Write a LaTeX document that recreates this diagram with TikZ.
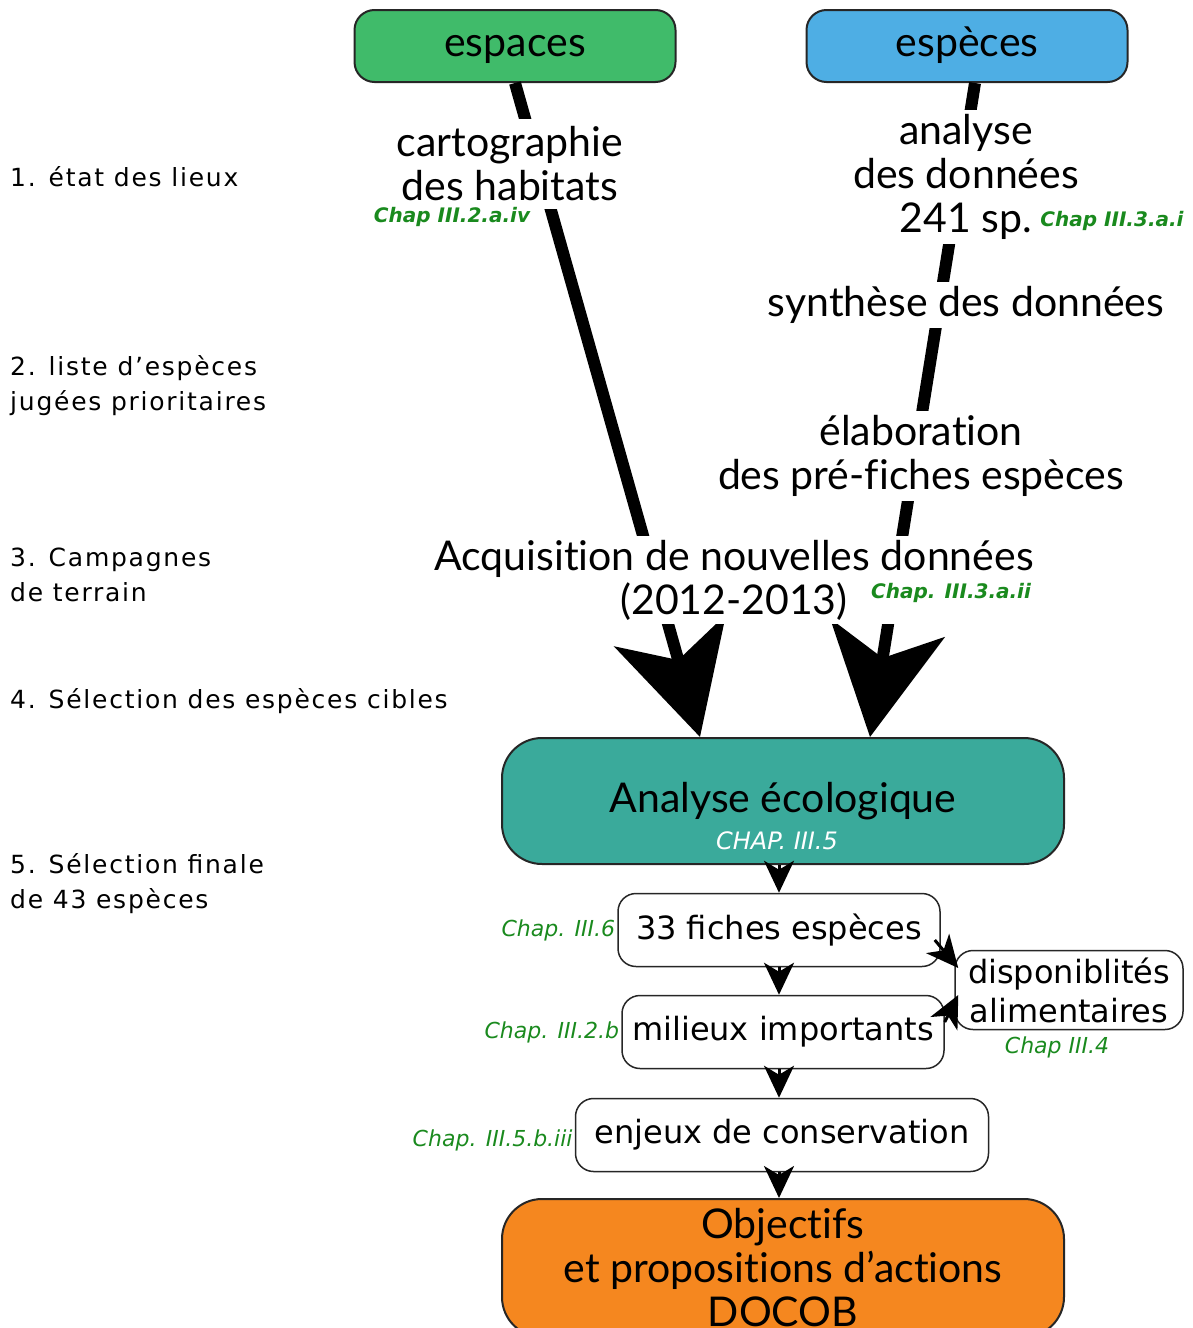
\documentclass[tikz,border=0pt]{standalone}
\usepackage{fontspec}
\setmainfont{Lato}[Ligatures=NoCommon]
\newfontfamily\stagefont[LetterSpace=7]{DejaVu Sans}
\newfontfamily\chapfont{DejaVu Sans}
\usepackage{tikz}
\usetikzlibrary{arrows.meta, positioning, calc}
\definecolor{espgreen}{HTML}{40BB6A}
\definecolor{espblue}{HTML}{4EAEE4}
\definecolor{ecoteal}{HTML}{3AAA9B}
\definecolor{docorange}{HTML}{F5871F}
\definecolor{chapgreen}{HTML}{1A8A1E}

\begin{document}
\begin{tikzpicture}[
    x=1pt, y=-1pt,
    topbox/.style={rectangle, rounded corners=20pt, draw=black!85, line width=2pt, fill=#1, minimum width=321pt, minimum height=72pt, text height=21pt, text depth=0pt, font=\fontsize{41}{44}\selectfont},
    bigbox/.style={rectangle, rounded corners=40pt, draw=black!85, line width=2pt, fill=#1, minimum width=562pt, align=center, font=\fontsize{41}{44}\selectfont},
    smallbox/.style={rectangle, rounded corners=18pt, draw=black!85, line width=1.5pt, fill=white, minimum height=73pt, align=center, font=\chapfont\fontsize{32}{39}\selectfont},
    txt/.style={fill=white, align=center, inner sep=4pt, font=\fontsize{41}{44}\selectfont},
    stage/.style={anchor=west, align=left, inner sep=0pt, font=\stagefont\fontsize{25}{35}\selectfont},
    chap/.style={text=chapgreen, inner sep=1pt, font=\chapfont\bfseries\itshape\fontsize{20}{22}\selectfont},
    chapit/.style={text=chapgreen, inner sep=2pt, font=\chapfont\itshape\fontsize{22}{24}\selectfont},
    flow/.style={line width=12pt, -{Stealth[length=110pt, width=115pt, inset=30pt]}},
    link/.style={line width=3pt, -{Stealth[length=32pt, width=30pt, inset=9pt]}}
]
\clip (0,0) rectangle (1193,1328);

% Boxes
\node[topbox=espgreen] (espaces) at (515,46) {espaces};
\node[topbox=espblue] (especes) at (967,46) {espèces};
\node[bigbox=ecoteal, minimum height=126pt] (ana) at (783,801) {Analyse écologique};
\node[text=white, inner sep=0pt, font=\chapfont\itshape\fontsize{24}{26}\selectfont] (anachap) at (777,841) {CHAP. III.5};

% Main flows
\draw[flow] (espaces.south) -- ([xshift=-83pt]ana.north);
\draw[flow] ([xshift=8pt]especes.south) -- ([xshift=87pt]ana.north);

% Steps on the flows
\node[txt, inner sep=8pt] (carto) at (510,164) {cartographie\\des habitats};
\node[chap] (chapa) at (452,217) {Chap III.2.a.iv};
\node[txt] (analyse) at (966,177) {analyse\\des données\\241 sp.};
\node[chap] (chapb) at (1112,221) {Chap III.3.a.i};
\node[txt] (synth) at (966,305) {synthèse des données};
\node[txt] (elab) at (921,456) {élaboration\\des pré-fiches espèces};
\node[txt] (acq) at (734,580) {Acquisition de nouvelles données\\(2012-2013)};
\node[chap] (chapc) at (951,593) {Chap. III.3.a.ii};

% Stages
\node[stage] (s1) at (10,177) {1. état des lieux};
\node[stage] (s2) at (10,386) {2. liste d’espèces\\jugées prioritaires};
\node[stage] (s3) at (10,575) {3. Campagnes\\de terrain};
\node[stage] (s4) at (10,701) {4. Sélection des espèces cibles};
\node[stage] (s5) at (10,884) {5. Sélection finale\\de 43 espèces};

% Lower chain
\node[smallbox, minimum width=322pt] (fiches) at (779,930) {33 fiches espèces};
\node[smallbox, minimum width=322pt] (milieux) at (783,1032) {milieux importants};
\node[smallbox, minimum width=228pt, minimum height=79pt, inner sep=2pt] (dispo) at (1069,990) {disponiblités\\alimentaires};
\node[smallbox, minimum width=413pt] (enjeux) at (782,1135) {enjeux de conservation};
\node[bigbox=docorange, minimum height=138pt] (obj) at (783,1268) {Objectifs\\et propositions d’actions\\DOCOB};

\node[chapit, anchor=east] (chapd) at (fiches.west) {Chap. III.6};
\node[chapit, anchor=east] (chape) at (milieux.west) {Chap. III.2.b};
\node[chapit] (chapf) at (1057,1047) {Chap III.4};
\node[chapit, anchor=east] (chapg) at ([yshift=-5pt]enjeux.west) {Chap. III.5.b.iii};

\draw[link] (ana.south -| fiches.north) -- (fiches.north);
\draw[link] (fiches.south) -- (fiches.south |- milieux.north);
\draw[link] (milieux.south -| fiches.south) -- (enjeux.north -| fiches.south);
\draw[link] (enjeux.south -| fiches.south) -- (obj.north -| fiches.south);
\draw[link] ([xshift=-6pt,yshift=-10pt]fiches.east) -- ([xshift=4pt,yshift=22pt]dispo.west);
\draw[link] ([yshift=10pt]milieux.east) -- ([xshift=4pt,yshift=-5pt]dispo.west);

\end{tikzpicture}
\end{document}
